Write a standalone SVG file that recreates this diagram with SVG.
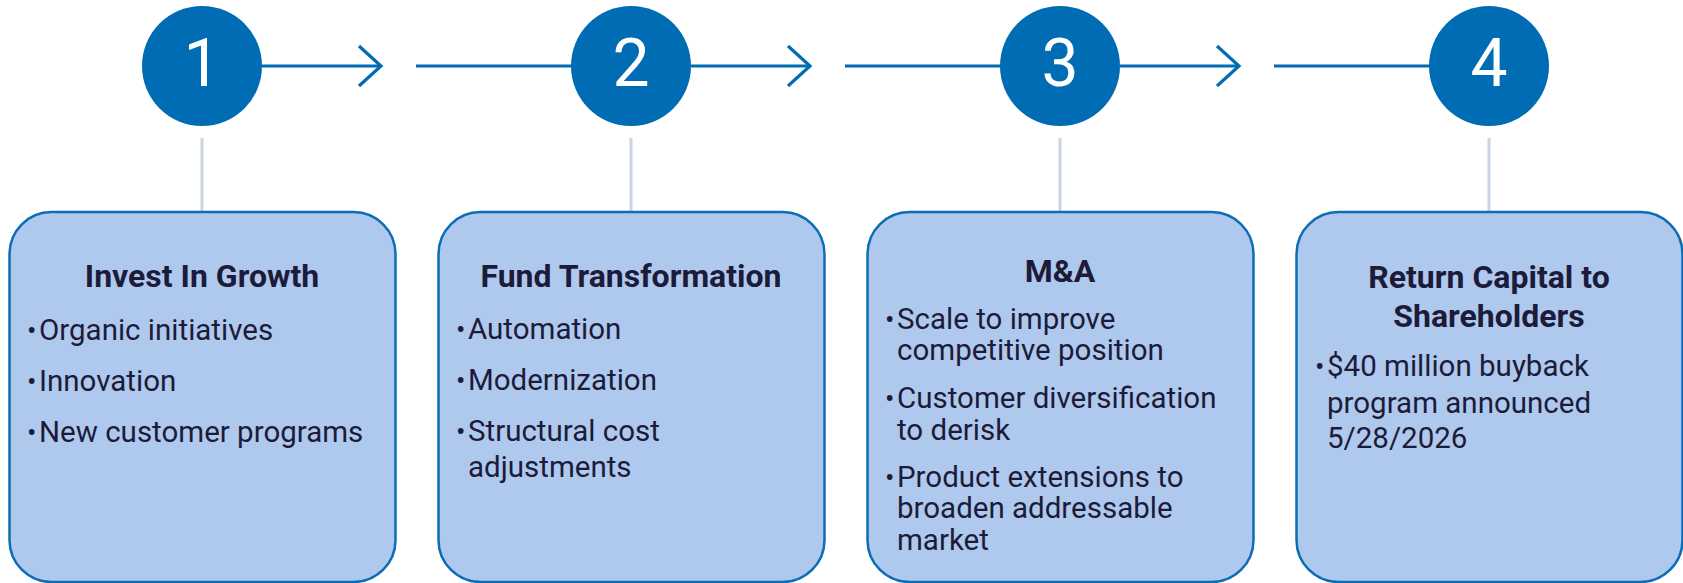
<svg xmlns="http://www.w3.org/2000/svg" width="1683" height="583" viewBox="0 0 1683 583">
  <style>
    .step { fill: #006cb4; }
    .num { fill: #ffffff; font-family: Roboto, "Liberation Sans", sans-serif; font-size: 66px; font-weight: 400; text-anchor: middle; }
    .card { fill: #aec9ed; stroke: #0b6db5; stroke-width: 2.5; }
    .title { fill: #1d1b3a; font-family: Roboto, "Liberation Sans", sans-serif; font-size: 32px; font-weight: 700; text-anchor: middle; }
    .body { fill: #1d1b3a; font-family: Roboto, "Liberation Sans", sans-serif; font-size: 29.5px; font-weight: 400; }
    .dot { fill: #1d1b3a; font-family: Roboto, "Liberation Sans", sans-serif; font-size: 28px; }
    .flow { stroke: #006cb4; stroke-width: 3.2; fill: none; }
    .stem { stroke: #cbd4e3; stroke-width: 3; }
  </style>

  <!-- connectors: horizontal flow between the numbered steps, stems down to the cards -->
  <g id="connectors">
    <line class="flow" x1="262" y1="66" x2="381" y2="66"/>
    <polyline class="flow" points="359,46 381,66 359,86"/>
    <line class="flow" x1="416" y1="66" x2="572" y2="66"/>

    <line class="flow" x1="691" y1="66" x2="810" y2="66"/>
    <polyline class="flow" points="788,46 810,66 788,86"/>
    <line class="flow" x1="845" y1="66" x2="1001" y2="66"/>

    <line class="flow" x1="1120" y1="66" x2="1239" y2="66"/>
    <polyline class="flow" points="1217,46 1239,66 1217,86"/>
    <line class="flow" x1="1274" y1="66" x2="1430" y2="66"/>

    <line class="stem" x1="202" y1="138" x2="202" y2="211"/>
    <line class="stem" x1="631" y1="138" x2="631" y2="211"/>
    <line class="stem" x1="1060" y1="138" x2="1060" y2="211"/>
    <line class="stem" x1="1489" y1="138" x2="1489" y2="211"/>
  </g>

  <!-- step 1 -->
  <g id="step-1">
    <circle class="step" cx="202" cy="66" r="60"/>
    <text class="num" x="202" y="86">1</text>
  </g>
  <g id="card-1">
    <rect class="card" x="9.5" y="212" width="386" height="370" rx="42"/>
    <text class="title" x="202" y="287">Invest In Growth</text>
    <text class="dot" x="27" y="340">•</text>
    <text class="body" x="39" y="340">Organic initiatives</text>
    <text class="dot" x="27" y="391">•</text>
    <text class="body" x="39" y="391">Innovation</text>
    <text class="dot" x="27" y="442">•</text>
    <text class="body" x="39" y="442">New customer programs</text>
  </g>

  <!-- step 2 -->
  <g id="step-2">
    <circle class="step" cx="631" cy="66" r="60"/>
    <text class="num" x="631" y="86">2</text>
  </g>
  <g id="card-2">
    <rect class="card" x="438.5" y="212" width="386" height="370" rx="42"/>
    <text class="title" x="631" y="287">Fund Transformation</text>
    <text class="dot" x="456" y="339">•</text>
    <text class="body" x="468" y="339">Automation</text>
    <text class="dot" x="456" y="390">•</text>
    <text class="body" x="468" y="390">Modernization</text>
    <text class="dot" x="456" y="441">•</text>
    <text class="body" x="468" y="441">Structural cost</text>
    <text class="body" x="468" y="477">adjustments</text>
  </g>

  <!-- step 3 -->
  <g id="step-3">
    <circle class="step" cx="1060" cy="66" r="60"/>
    <text class="num" x="1060" y="86">3</text>
  </g>
  <g id="card-3">
    <rect class="card" x="867.5" y="212" width="386" height="370" rx="42"/>
    <text class="title" x="1060" y="282">M&amp;A</text>
    <text class="dot" x="885" y="329">•</text>
    <text class="body" x="897" y="329">Scale to improve</text>
    <text class="body" x="897" y="360">competitive position</text>
    <text class="dot" x="885" y="408">•</text>
    <text class="body" x="897" y="408">Customer diversification</text>
    <text class="body" x="897" y="440">to derisk</text>
    <text class="dot" x="885" y="487">•</text>
    <text class="body" x="897" y="487">Product extensions to</text>
    <text class="body" x="897" y="518">broaden addressable</text>
    <text class="body" x="897" y="550">market</text>
  </g>

  <!-- step 4 -->
  <g id="step-4">
    <circle class="step" cx="1489" cy="66" r="60"/>
    <text class="num" x="1489" y="86">4</text>
  </g>
  <g id="card-4">
    <rect class="card" x="1296.5" y="212" width="386" height="370" rx="42"/>
    <text class="title" x="1489" y="288">Return Capital to</text>
    <text class="title" x="1489" y="327">Shareholders</text>
    <text class="dot" x="1315" y="376">•</text>
    <text class="body" x="1327" y="376">$40 million buyback</text>
    <text class="body" x="1327" y="413">program announced</text>
    <text class="body" x="1327" y="448">5/28/2026</text>
  </g>
</svg>
